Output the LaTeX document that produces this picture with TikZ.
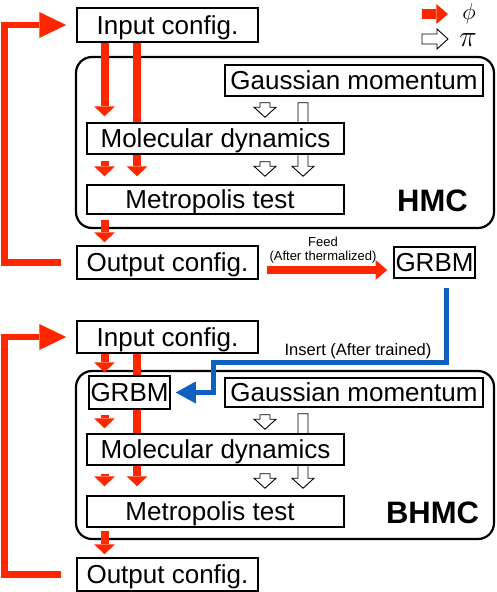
\RequirePackage{fix-cm}
\documentclass[tikz,border=0pt]{standalone}
\usepackage{fontspec}
\setmainfont{Liberation Sans}
\usetikzlibrary{arrows.meta,calc}
\pgfdeclarelayer{bg}
\pgfdeclarelayer{arr}
\pgfsetlayers{bg,arr,main}
\definecolor{phired}{RGB}{255,38,0}
\definecolor{insblue}{RGB}{16,96,192}
\tikzset{
  box/.style={draw=black, line width=1.5pt, fill=white, inner sep=0pt,
    font=\fontsize{26}{30}\selectfont, text height=18.6pt, text depth=0pt},
  group/.style={draw=black, line width=2.2pt, rounded corners=16pt, inner sep=0pt},
  grouplab/.style={font=\fontsize{31}{36}\selectfont\bfseries, anchor=base, inner sep=0pt},
  redarr/.style={draw=phired, line width=8pt,
    -{Triangle[width=21pt,length=10pt,line width=0pt]}},
  feedarr/.style={draw=phired, line width=8pt,
    -{Triangle[width=20pt,length=11.7pt,line width=0pt]}},
  looparr/.style={draw=phired, line width=6.5pt, line join=miter,
    -{Triangle[width=26pt,length=27pt,line width=0pt]}},
  bluearr/.style={draw=insblue, line width=5pt, line join=miter,
    -{Triangle[width=22pt,length=20pt,line width=0pt]}},
  legarr/.style={draw=phired, line width=10pt,
    -{Triangle[width=20pt,length=11.6pt,line width=0pt]}},
  hollow/.style={draw=black, line width=0.9pt, fill=white, line join=miter},
  small/.style={font=\fontsize{13}{15}\selectfont, inner sep=0pt},
}
\newcommand\hollowarrow[2]{%
  \path let \p1=(#1), \p2=(#2) in
    [hollow] ({\x1-5pt},{\y1}) -- ({\x1+5pt},{\y1}) -- ({\x1+5pt},{\y2+10pt})
    -- ({\x1+11pt},{\y2+10pt}) -- ({\x1},{\y2}) -- ({\x1-11pt},{\y2+10pt})
    -- ({\x1-5pt},{\y2+10pt}) -- cycle;}
\begin{document}
\begin{tikzpicture}[x=1pt,y=-1pt]
\useasboundingbox (0,0) rectangle (496,592);
% column coordinates
\coordinate (xa) at (104.5,0);
\coordinate (xb) at (137,0);
\coordinate (xc) at (265,0);
\coordinate (xd) at (303,0);
\coordinate (xl) at (4.5,0);

% ---------- groups ----------
\begin{pgfonlayer}{bg}
\node[group, minimum width=418pt, minimum height=171pt] (hmc) at (285,142.5) {};
\node[group, minimum width=418pt, minimum height=168pt] (bhmc) at (285,455) {};
\end{pgfonlayer}
\node[grouplab] (hmclab) at (432.5,211.5) {HMC};
\node[grouplab] (bhmclab) at (432.5,523.3) {BHMC};

% ---------- top boxes ----------
\node[box, minimum width=181pt, minimum height=34pt] (in1) at (167.5,25) {Input config.};
\node[box, minimum width=258pt, minimum height=31pt] (gm1) at (354,80.5) {Gaussian momentum};
\node[box, minimum width=257pt, minimum height=31pt] (md1) at (215.5,138.5) {Molecular dynamics};
\node[box, minimum width=257pt, minimum height=29pt] (mt1) at (215.5,199.5) {Metropolis test\hspace*{11pt}};
\node[box, minimum width=181pt, minimum height=33pt] (out1) at (167.5,262.5) {Output config.};
\node[box, minimum width=81pt, minimum height=31pt] (grbm1) at (434.5,262.5) {GRBM};

% ---------- bottom boxes ----------
\node[box, minimum width=181pt, minimum height=32pt] (in2) at (167.5,337) {Input config.};
\node[box, minimum width=81pt, minimum height=33pt] (grbm2) at (129.5,392.5) {GRBM};
\node[box, minimum width=258pt, minimum height=29pt] (gm2) at (354,392.5) {Gaussian momentum};
\node[box, minimum width=257pt, minimum height=31pt] (md2) at (215.5,449.5) {Molecular dynamics};
\node[box, minimum width=257pt, minimum height=31pt] (mt2) at (215.5,511.5) {Metropolis test\hspace*{11pt}};
\node[box, minimum width=181pt, minimum height=33pt] (out2) at (167.5,574.5) {Output config.};

% ---------- labels ----------
\node[small] (feed) at (323,242) {Feed};
\node[small] (after) at (323,257) {(After thermalized)};
\node[font=\fontsize{16.5}{19}\selectfont, inner sep=0pt] (ins) at (358,351) {Insert (After trained)};
\node[inner sep=0pt, scale=1.05] (phi) at (469,14) {\fontsize{22}{26}\selectfont$\phi$};
\node[inner sep=0pt, scale=1.2] (pi) at (468,40) {\fontsize{25}{30}\selectfont$\pi$};

% ---------- connectors ----------
\begin{pgfonlayer}{arr}
% legend
\coordinate (lr1) at (422,14);
\coordinate (lr2) at (448,14);
\draw[legarr] (lr1) -- (lr2);
\coordinate (lw) at (422,39);
\path[hollow] (lw) ++(0,-5) -- ++(15,0) -- ++(0,-5) -- ++(11,10) -- ++(-11,10)
  -- ++(0,-5) -- ++(-15,0) -- cycle;

% top red arrows
\draw[redarr] (in1.south -| xa) -- ($(md1.north -| xa)+(0,-6)$);
\draw[redarr] (in1.south -| xb) -- ($(mt1.north -| xb)+(0,-8)$);
\draw[redarr] ($(md1.south -| xa)+(0,6.7)$) -- ($(mt1.north -| xa)+(0,-8)$);
\draw[redarr] ($(mt1.south -| xa)+(0,5)$) -- ($(out1.north -| xa)+(0,-3)$);
% top white arrows
\coordinate (w1s) at ($(gm1.south -| xc)+(0,6)$);
\coordinate (w1e) at ($(md1.north -| xc)+(0,-5)$);
\hollowarrow{w1s}{w1e}
\coordinate (w2s) at ($(gm1.south -| xd)+(0,6)$);
\coordinate (w2e) at ($(mt1.north -| xd)+(0,-8)$);
\hollowarrow{w2s}{w2e}
\coordinate (w3s) at ($(md1.south -| xc)+(0,7)$);
\coordinate (w3e) at ($(mt1.north -| xc)+(0,-8)$);
\hollowarrow{w3s}{w3e}

% bottom red arrows
\draw[redarr] (in2.south -| xa) -- ($(grbm2.north -| xa)+(0,-3)$);
\draw[redarr] (in2.south -| xb) -- ($(mt2.north -| xb)+(0,-9)$);
\draw[redarr] ($(grbm2.south -| xa)+(0,5)$) -- ($(md2.north -| xa)+(0,-5)$);
\draw[redarr] ($(md2.south -| xa)+(0,8)$) -- ($(mt2.north -| xa)+(0,-9)$);
\draw[redarr] ($(mt2.south -| xa)+(0,3)$) -- ($(out2.north -| xa)+(0,-3)$);
% bottom white arrows
\coordinate (v1s) at ($(gm2.south -| xc)+(0,7)$);
\coordinate (v1e) at ($(md2.north -| xc)+(0,-4)$);
\hollowarrow{v1s}{v1e}
\coordinate (v2s) at ($(gm2.south -| xd)+(0,6)$);
\coordinate (v2e) at ($(mt2.north -| xd)+(0,-7)$);
\hollowarrow{v2s}{v2e}
\coordinate (v3s) at ($(md2.south -| xc)+(0,8)$);
\coordinate (v3e) at ($(mt2.north -| xc)+(0,-7)$);
\hollowarrow{v3s}{v3e}

% feedback loops
\draw[looparr] ($(out1.west)+(-15,0)$) -| (xl |- in1.west) -- ($(in1.west)+(-10,0)$);
\draw[looparr] ($(out2.west)+(-15,0)$) -| (xl |- in2.west) -- ($(in2.west)+(-10,0)$);

% feed
\draw[feedarr] ($(out1.east)+(8,7.5)$) -- ($(grbm1.west)+(-6,7.5)$);
% insert
\coordinate (bj) at (213,362.5);
\draw[bluearr] ($(grbm1.south)+(11.5,9)$) |- (bj) |- ($(grbm2.east)+(5,0)$);
\end{pgfonlayer}
\end{tikzpicture}
\end{document}
